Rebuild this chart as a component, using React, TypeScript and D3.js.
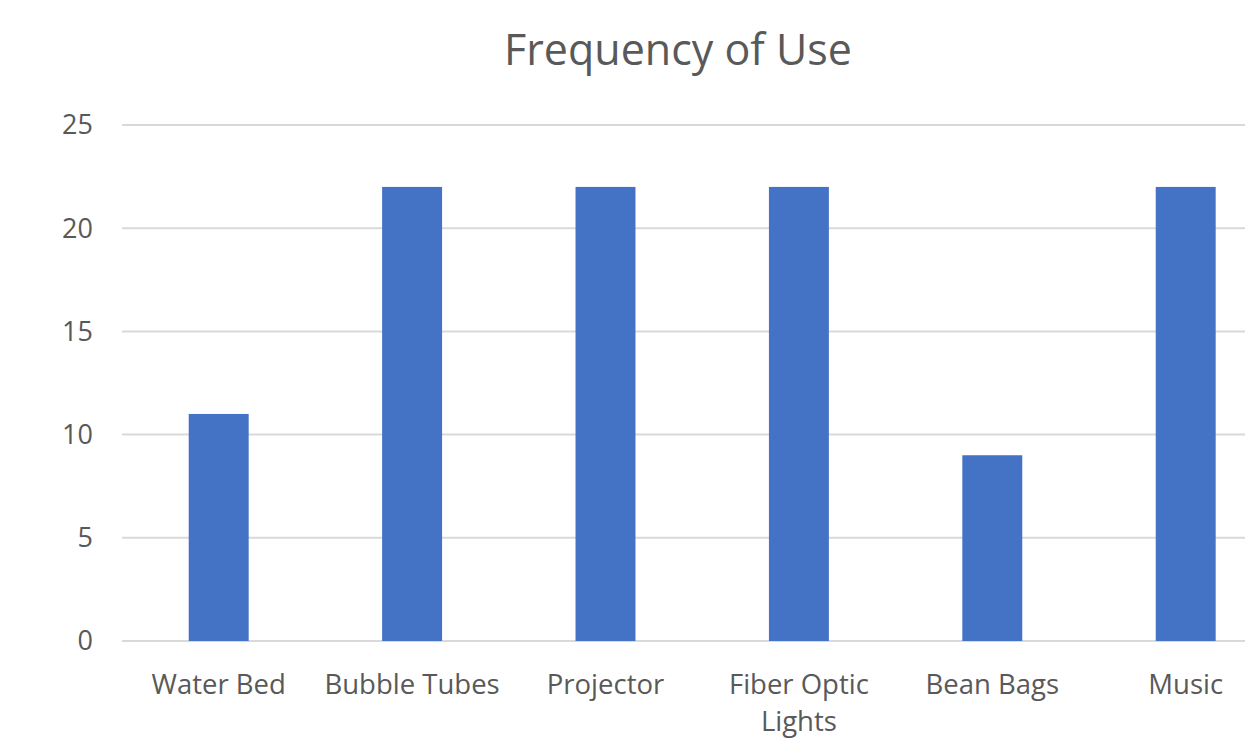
import React from "react";
import * as d3 from "d3";

const categories = ["Water Bed", "Bubble Tubes", "Projector", "Fiber Optic Lights", "Bean Bags", "Music"];
const labelLines = [["Water Bed"], ["Bubble Tubes"], ["Projector"], ["Fiber Optic", "Lights"], ["Bean Bags"], ["Music"]];
const values = [11, 22, 22, 22, 9, 22];
const yTicks = [0, 5, 10, 15, 20, 25];
const title = "Frequency of Use";

const W = 1245;
const H = 741;
const FONT = "'Open Sans', 'DejaVu Sans', sans-serif";
const TEXT = "#595959";

export default function App() {
  const x = d3
    .scaleBand<string>()
    .domain(categories)
    .range([122, 1282.4])
    .paddingInner(0.69)
    .paddingOuter(0.345);
  const y = d3.scaleLinear().domain([0, 25]).range([641, 125]);

  return (
    <svg
      width={W}
      height={H}
      style={{ position: "absolute", left: 0, top: 0, background: "#fff" }}
    >
      <rect x={0} y={0} width={W} height={H} fill="#fff" />
      <text x={678} y={65} textAnchor="middle" fontFamily={FONT} fontSize={43} fill={TEXT}>
        {title}
      </text>
      {yTicks.map((t) => (
        <g key={t}>
          <line x1={122} x2={W} y1={y(t)} y2={y(t)} stroke="#d9d9d9" strokeWidth={2} />
          <text
            x={93}
            y={y(t)}
            dy="0.35em"
            textAnchor="end"
            fontFamily={FONT}
            fontSize={27}
            fill={TEXT}
          >
            {t}
          </text>
        </g>
      ))}
      {categories.map((c, i) => (
        <rect
          key={c}
          x={x(c)}
          y={y(values[i])}
          width={x.bandwidth()}
          height={y(0) - y(values[i])}
          fill="#4472c4"
        />
      ))}
      {categories.map((c, i) => (
        <text
          key={c}
          x={(x(c) as number) + x.bandwidth() / 2}
          y={694}
          textAnchor="middle"
          fontFamily={FONT}
          fontSize={27.5}
          fill={TEXT}
        >
          {labelLines[i].map((l, j) => (
            <tspan key={j} x={(x(c) as number) + x.bandwidth() / 2} dy={j === 0 ? 0 : 37}>
              {l}
            </tspan>
          ))}
        </text>
      ))}
    </svg>
  );
}
